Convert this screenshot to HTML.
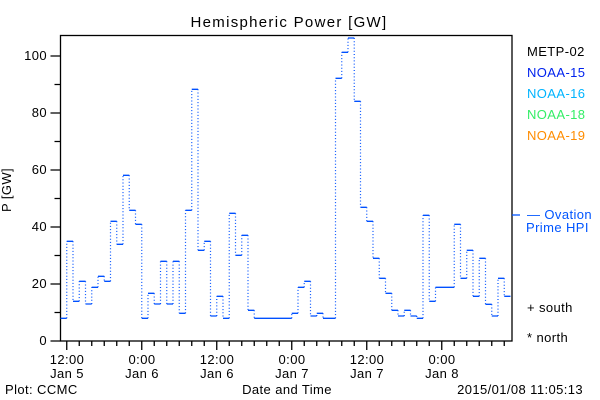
<!DOCTYPE html>
<html><head><meta charset="utf-8"><style>
body{margin:0;background:#fff}
svg{display:block}
text{font-family:"Liberation Sans",sans-serif;font-size:13px;fill:#000;letter-spacing:0.4px}
</style></head><body>
<svg id="s" width="600" height="400" xmlns="http://www.w3.org/2000/svg">
<rect width="600" height="400" fill="#fff"/>
<text x="289" y="27" text-anchor="middle" style="font-size:15px;letter-spacing:1.3px">Hemispheric Power [GW]</text>
<text transform="translate(11,190) rotate(-90)" text-anchor="middle">P [GW]</text>
<rect x="60.5" y="35.5" width="451.5" height="305.5" fill="none" stroke="#000" stroke-width="1.3"/>
<g id="ticks" stroke="#000" stroke-width="1.3"></g>
<g text-anchor="end">
<text x="47" y="345">0</text><text x="47" y="288">20</text><text x="47" y="231">40</text>
<text x="47" y="174">60</text><text x="47" y="117">80</text><text x="47" y="60">100</text>
</g>
<g text-anchor="middle">
<text x="67" y="364">12:00</text><text x="67" y="378">Jan 5</text>
<text x="142" y="364">0:00</text><text x="142" y="378">Jan 6</text>
<text x="217" y="364">12:00</text><text x="217" y="378">Jan 6</text>
<text x="292" y="364">0:00</text><text x="292" y="378">Jan 7</text>
<text x="367" y="364">12:00</text><text x="367" y="378">Jan 7</text>
<text x="442" y="364">0:00</text><text x="442" y="378">Jan 8</text>
<text x="287" y="394">Date and Time</text>
</g>
<text x="5" y="394">Plot: CCMC</text>
<text x="583" y="394" text-anchor="end">2015/01/08 11:05:13</text>
<text x="527" y="56">METP-02</text>
<text x="527" y="77" style="fill:#0022ee">NOAA-15</text>
<text x="527" y="98" style="fill:#00b4ff">NOAA-16</text>
<text x="527" y="119" style="fill:#33ee66">NOAA-18</text>
<text x="527" y="140" style="fill:#ff8c00">NOAA-19</text>
<line x1="512" y1="215" x2="520" y2="215" stroke="#0055ff" stroke-width="1.3"/>
<text x="527" y="219" style="fill:#0055ff">— Ovation</text>
<text x="526" y="232" style="fill:#0055ff">Prime HPI</text>
<text x="527" y="312">+ south</text>
<text x="527" y="342">* north</text>
<path id="h" fill="none" stroke="#0050ff" stroke-width="1.3"/>
<path id="v" fill="none" stroke="#0050ff" stroke-width="1.2" stroke-dasharray="1,2.2"/>
</svg>
<script>
var ys=[318.3,241.3,301.3,281.3,304,287.3,276.3,281.3,221.3,244.3,175.3,210.3,224.3,318.3,293.3,304,261.3,304,261.3,313.3,210.3,89.3,250.3,241.3,316,296.3,318.3,213.3,255.3,235.3,310.3,318.3,318.3,318.3,318.3,318.3,318.3,313.3,287.3,281.3,316,313.3,318.3,318.3,78.3,52.3,38,101.3,207.3,221.3,258.3,278.3,293.3,310.3,316,310.3,316,318.3,215.3,301.3,287.3,287.3,287.3,224.3,278.3,250.3,296.3,258.3,304.3,316,278.3,296.3];
var h="",v="";
for(var k=0;k<ys.length;k++){var x0=60.5+6.25*k,x1=x0+6.25;h+="M"+x0+" "+ys[k]+"H"+x1;
if(k+1<ys.length&&ys[k+1]!=ys[k])v+="M"+x1+" "+ys[k]+"V"+ys[k+1];}
document.getElementById("h").setAttribute("d",h);
document.getElementById("v").setAttribute("d",v);
var t="";
for(var m=0;m<=35;m++){var x=66.75+12.5*m;if(x>511)break;var L=(m%6==0)?9:5;t+="M"+x+" 341V"+(341+L);}
for(var val=0;val<=100;val+=10){var y=341-val*2.85;var L=(val%20==0)?10:6;t+="M60.5 "+y+"H"+(60.5-L);}
var p=document.createElementNS("http://www.w3.org/2000/svg","path");p.setAttribute("d",t);p.setAttribute("fill","none");
document.getElementById("ticks").appendChild(p);
</script>
</body></html>
